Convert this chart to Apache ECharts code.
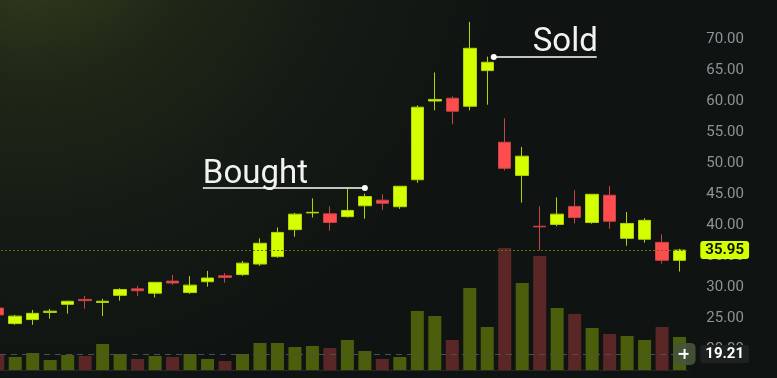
<!DOCTYPE html>
<html>
<head>
<meta charset="utf-8">
<script src="https://cdn.jsdelivr.net/npm/echarts@6/dist/echarts.min.js"></script>
<style>
  html, body { margin: 0; padding: 0; background: #111613; overflow: hidden; }
  #chart { width: 788px; height: 380px; margin-left: -11px; }
</style>
</head>
<body>
<div id="chart"></div>
<script>
// bar index labels (no dates shown on the chart)
const days = ['1','2','3','4','5','6','7','8','9','10','11','12','13','14','15','16','17','18','19','20',
              '21','22','23','24','25','26','27','28','29','30','31','32','33','34','35','36','37','38','39','40'];
const opens  = [26.6, 24.1, 24.75, 25.9, 27.2, 28.0, 27.5, 28.65, 29.7, 29.0,
                30.95, 29.1, 30.85, 31.8, 32.0, 33.7, 34.9, 39.25, 41.95, 41.8,
                41.35, 43.1, 44.0, 42.95, 47.3, 60.0, 60.45, 59.15, 64.9, 53.35,
                48.0, 39.8, 40.1, 43.0, 40.4, 44.8, 37.85, 37.7, 37.2, 34.3];
const closes = [25.5, 25.3, 25.75, 26.1, 27.7, 27.8, 27.7, 29.6, 29.4, 30.75,
                30.65, 30.3, 31.45, 31.55, 33.85, 37.05, 38.8, 41.75, 42.05, 40.4,
                42.35, 44.6, 43.5, 46.25, 59.0, 60.25, 58.35, 68.5, 66.25, 49.15,
                51.1, 39.7, 41.75, 41.2, 44.95, 40.6, 40.25, 40.75, 34.3, 35.95];
const lows   = [25.3, 23.9, 23.9, 24.9, 25.7, 26.5, 25.3, 27.8, 28.55, 28.3,
                30.35, 28.9, 30.05, 30.7, 31.8, 33.4, 34.7, 38.1, 41.2, 39.1,
                41.2, 41.0, 42.45, 42.6, 46.8, 58.5, 56.25, 58.5, 59.4, 48.8,
                43.6, 35.9, 39.8, 40.25, 40.2, 39.4, 36.65, 37.15, 33.75, 32.5];
const highs  = [26.8, 25.5, 26.3, 26.45, 27.8, 28.55, 28.1, 29.8, 30.2, 30.8,
                31.95, 31.75, 32.6, 32.25, 34.2, 37.85, 39.6, 41.95, 44.3, 43.0,
                45.8, 45.05, 44.95, 46.3, 59.3, 64.6, 60.75, 72.75, 67.15, 57.2,
                52.6, 43.0, 44.45, 45.6, 45.0, 46.3, 42.1, 41.1, 38.5, 36.15];
const volumes = [8.0, 6.5, 8.5, 5.0, 7.5, 7.0, 13.0, 8.0, 5.5, 7.0,
                 6.5, 8.0, 5.5, 4.5, 8.0, 13.5, 13.5, 11.5, 12.0, 11.0,
                 15.0, 9.5, 5.5, 6.5, 29.5, 27.0, 15.0, 41.0, 21.5, 61.0,
                 43.5, 57.0, 31.0, 28.0, 21.0, 18.0, 17.0, 15.0, 21.5, 16.5];
const priceTicks = [20, 25, 30, 35, 40, 45, 50, 55, 60, 65, 70];
const lastPrice = 35.95;
const crossPrice = 19.21;
const boughtBar = 21, boughtPrice = 45.97;
const soldBar = 28, soldPrice = 67.1;

const UP = '#d4ff00', DOWN = '#ff4d4f';

let chart = echarts.init(document.getElementById('chart'));

let candleData = opens.map((o, i) => [o, closes[i], lows[i], highs[i]]);
let volData = volumes.map((v, i) => ({
  value: v,
  itemStyle: { color: closes[i] >= opens[i] ? '#4b5e0c' : '#5a2626' }
}));

let option = {
  backgroundColor: {
    type: 'radial', x: 0.05, y: -0.25, r: 1.3,
    colorStops: [
      { offset: 0, color: '#3a471e' },
      { offset: 0.35, color: '#1f2717' },
      { offset: 0.7, color: '#131914' },
      { offset: 1, color: '#0f1412' }
    ]
  },
  animation: false,
  grid: [
    { left: 0, right: 88.7, top: 8, bottom: 0 },
    { left: 0, right: 88.7, top: 240, bottom: 10 }
  ],
  xAxis: [
    { type: 'category', data: days, gridIndex: 0, show: false },
    {
      type: 'category', data: days, gridIndex: 1,
      axisLine: { show: true, lineStyle: { color: '#262b29', width: 1 } },
      axisTick: { show: false },
      axisLabel: { show: false }
    }
  ],
  yAxis: [
    {
      type: 'value', gridIndex: 0, position: 'right',
      min: 15, max: 75, interval: 5,
      splitLine: { show: false },
      axisLine: { show: false },
      axisTick: { show: false },
      axisLabel: {
        margin: 18,
        color: '#8d9398',
        fontFamily: 'Roboto',
        fontSize: 15,
        showMinLabel: false,
        showMaxLabel: false,
        formatter: v => priceTicks.includes(v) ? v.toFixed(2) : ''
      }
    },
    {
      type: 'value', gridIndex: 1, min: 0, max: 65, show: false
    }
  ],
  series: [
    {
      name: 'Volume',
      type: 'bar',
      xAxisIndex: 1,
      yAxisIndex: 1,
      barWidth: 13,
      data: volData,
      z: 1
    },
    {
      name: 'Price',
      type: 'candlestick',
      xAxisIndex: 0,
      yAxisIndex: 0,
      barWidth: 13,
      data: candleData,
      z: 3,
      itemStyle: {
        color: UP,
        color0: DOWN,
        borderColor: '#b2d400',
        borderColor0: '#c94444',
        borderWidth: 1
      },
      markLine: {
        symbol: 'none',
        silent: true,
        animation: false,
        data: [
          {
            yAxis: lastPrice,
            lineStyle: { color: '#5b6f12', type: [2, 2], width: 1 },
            label: {
              position: 'end', distance: 12,
              formatter: lastPrice.toFixed(2),
              backgroundColor: UP, color: '#111', fontWeight: 'bold',
              fontFamily: 'Roboto', fontSize: 15,
              padding: [2, 5, 1, 5], borderRadius: 3
            }
          },
          {
            yAxis: crossPrice,
            lineStyle: { color: '#4a4f51', type: [6, 5], width: 1 },
            label: {
              position: 'end', distance: 12,
              formatter: crossPrice.toFixed(2),
              backgroundColor: '#1d2120', color: '#ffffff', fontWeight: 'bold',
              fontFamily: 'Roboto', fontSize: 15,
              padding: [2, 5, 1, 5], borderRadius: 2
            }
          }
        ]
      }
    }
  ]
};
chart.setOption(option);

// annotations placed from data coordinates
let bp = chart.convertToPixel({ gridIndex: 0 }, [days[boughtBar], boughtPrice]);
let sp = chart.convertToPixel({ gridIndex: 0 }, [days[soldBar], soldPrice]);
let cp = chart.convertToPixel({ gridIndex: 0 }, [days[39], crossPrice]);
sp[0] += 6.5; // sold marker sits on the right edge of the candle body

chart.setOption({
  graphic: [
    { type: 'line', shape: { x1: bp[0] - 162, y1: bp[1], x2: bp[0], y2: bp[1] },
      style: { stroke: '#ffffff', lineWidth: 1.5 }, z: 10 },
    { type: 'circle', shape: { cx: bp[0], cy: bp[1], r: 3 }, style: { fill: '#ffffff' }, z: 10 },
    { type: 'text', x: bp[0] - 162, y: bp[1] - 13,
      style: { text: 'Bought', fill: '#f2f2f2', font: '33px Roboto', textVerticalAlign: 'middle' }, z: 10 },
    { type: 'line', shape: { x1: sp[0], y1: sp[1], x2: sp[0] + 103, y2: sp[1] },
      style: { stroke: '#ffffff', lineWidth: 1.5 }, z: 10 },
    { type: 'circle', shape: { cx: sp[0], cy: sp[1], r: 3 }, style: { fill: '#ffffff' }, z: 10 },
    { type: 'text', x: sp[0] + 39, y: sp[1] - 14,
      style: { text: 'Sold', fill: '#f2f2f2', font: '33px Roboto', textVerticalAlign: 'middle' }, z: 10 },
    { type: 'rect', shape: { x: cp[0] - 6, y: cp[1] - 11, width: 22, height: 22, r: 5 },
      style: { fill: 'rgba(72,84,58,0.9)' }, z: 10 },
    { type: 'line', shape: { x1: cp[0] - 1, y1: cp[1], x2: cp[0] + 9, y2: cp[1] },
      style: { stroke: '#ffffff', lineWidth: 2 }, z: 11 },
    { type: 'line', shape: { x1: cp[0] + 5, y1: cp[1] - 5, x2: cp[0] + 5, y2: cp[1] + 5 },
      style: { stroke: '#ffffff', lineWidth: 2 }, z: 11 }
  ]
});
</script>
</body>
</html>
